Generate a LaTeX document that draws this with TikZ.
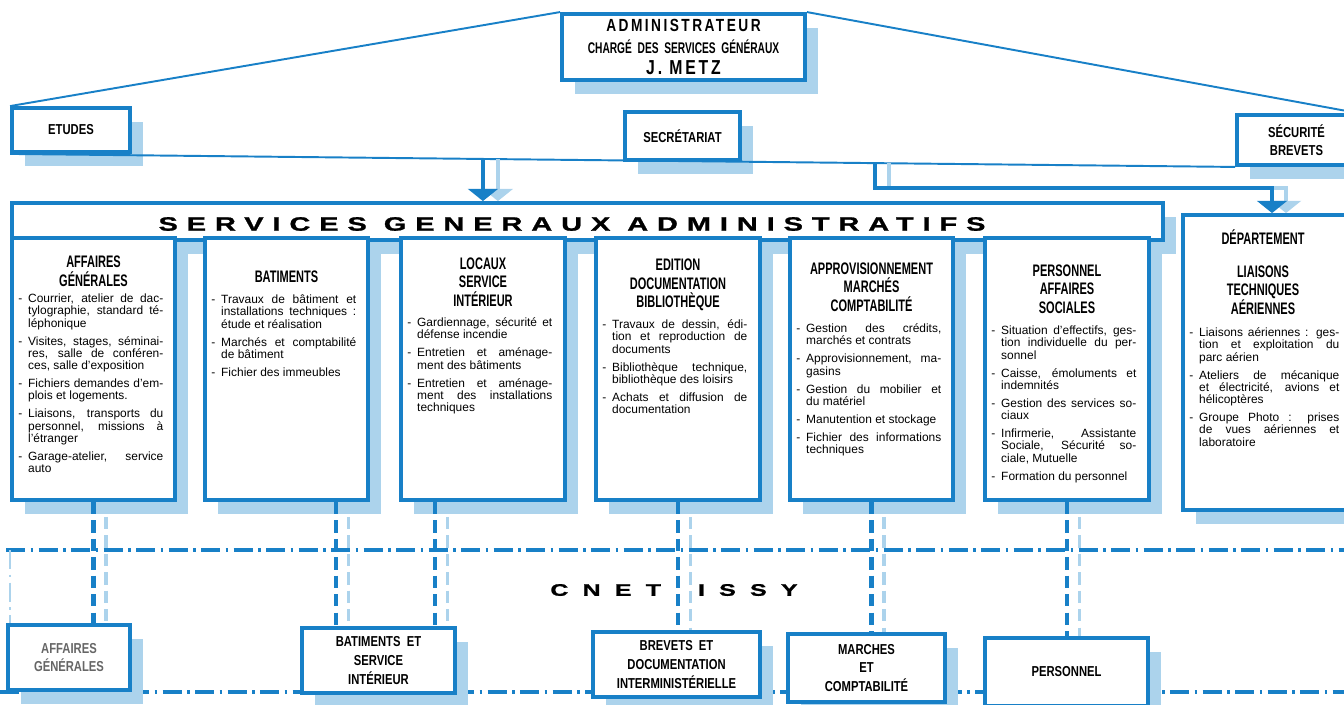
\documentclass[tikz,border=0pt]{standalone}
\usepackage{fontspec}
\setmainfont{Liberation Sans}
\newfontfamily\condfont[FakeStretch=0.66]{Liberation Sans}
\newfontfamily\midfont[FakeStretch=0.78]{Liberation Sans}
\newfontfamily\widefont[FakeStretch=1.5,FakeBold=1.2]{Liberation Sans}
\usetikzlibrary{arrows.meta,shadows,positioning}

\definecolor{cnetblue}{RGB}{24,128,199}
\definecolor{shade}{RGB}{172,211,236}

\newlength{\dashw}
\setlength{\dashw}{5.6pt}
% one entry of a service list, with a hanging dash
\newcommand{\duty}[1]{\par\hangindent=\dashw\hangafter=1\noindent
  \makebox[\dashw][l]{-}#1\par\vspace{3.2pt}}

\tikzset{
  box/.style={draw=cnetblue, line width=2.2pt, fill=white, inner sep=0pt,
    general shadow={fill=shade, shadow xshift=0.26cm, shadow yshift=-0.28cm}},
  wd/.style={minimum width={(#1)*0.02cm}},
  ht/.style={minimum height={(#1)*0.02cm}},
  head/.style={font=\condfont\bfseries\fontsize{9.5}{10.6}\selectfont,
    align=center, inner sep=0pt},
  tagtext/.style={font=\midfont\bfseries\fontsize{8.2}{10.6}\selectfont,
    align=center},
  body/.style={font=\fontsize{6.8}{7}\selectfont, text width=2.9cm,
    align=justify, inner sep=0pt, anchor=north west},
  link/.style={draw=cnetblue, line width=1.1pt},
  feed/.style={draw=cnetblue, line width=2.1pt,
    -{Triangle[width=17pt,length=7pt]}},
  drop/.style={draw=cnetblue, line width=2.4pt, dash pattern=on 7pt off 3.5pt},
  site/.style={draw=cnetblue, line width=1.8pt,
    dash pattern=on 11pt off 3pt on 1.5pt off 3pt},
}

\begin{document}
\begin{tikzpicture}[x=0.02cm, y=-0.02cm]
\useasboundingbox (0,0) rectangle (1344,704);
\clip (0,0) rectangle (1344,704);

% CNET Issy site
\draw[site] (6,550) -- (1344,550);
\draw[site] (0,692) -- (1344,692);
\draw[site, draw=shade, line width=1.2pt] (10,550) -- (10,625);

% direction
\node[box, wd=243, ht=66, align=center] (admin) at (683.5,47)
  {{\midfont\bfseries\fontsize{10}{11}\selectfont\addfontfeature{LetterSpace=14}ADMINISTRATEUR}\\
   {\condfont\bfseries\fontsize{8.8}{11}\selectfont CHARGÉ\ \ DES\ \ SERVICES\ \ GÉNÉRAUX}\\
   {\midfont\bfseries\fontsize{11.5}{13}\selectfont\addfontfeature{LetterSpace=14}J. METZ}};
\node[box, wd=118, ht=44, tagtext] (etudes) at (71,130) {ETUDES};
\node[box, wd=115, ht=48, tagtext] (secr) at (682.5,136) {SECRÉTARIAT};
\node[box, wd=119, ht=50, tagtext] (secu) at (1296.5,140) {SÉCURITÉ\\BREVETS};

\draw[link] (admin.north west) -- (etudes.north west);
\draw[link] (admin.north east) -- (secu.north east);
\draw[link] (etudes.south west) -- coordinate[pos=0.386] (tapA)
  coordinate[pos=0.706] (tapB) (secu.south west);

% services generaux administratifs
\node[box, wd=1151, ht=37] (sga) at (587.5,221.5) {};
\node[font=\widefont\bfseries\fontsize{11}{11}\selectfont\addfontfeature{LetterSpace=46}]
  (sgatitle) at (572,224) {SERVICES GENERAUX ADMINISTRATIFS};

\node[box, wd=163, ht=262] (colA) at (93.5,369) {};
\node[box, wd=163, ht=262] (colB) at (286.5,369) {};
\node[box, wd=164, ht=262] (colC) at (483,369) {};
\node[box, wd=164, ht=262] (colD) at (678,369) {};
\node[box, wd=163, ht=262] (colE) at (871.5,369) {};
\node[box, wd=164, ht=262] (colF) at (1067,369) {};
\node[box, wd=178, ht=295] (dept) at (1272,362.5) {};

\draw[feed, draw=shade, transform canvas={xshift=0.3cm}] (tapA) -- (tapA |- sga.north);
\draw[feed] (tapA) -- (tapA |- sga.north);
\coordinate (elbow) at (877,188);
\draw[feed, draw=shade, transform canvas={xshift=0.28cm}] (tapB) -- (tapB |- elbow) -| (dept.north);
\draw[feed] (tapB) -- (tapB |- elbow) -| (dept.north);

\node[head] (headA) at (93.5,271) {AFFAIRES\\GÉNÉRALES};
\node[head] (headB) at (286.5,277) {BATIMENTS};
\node[head] (headC) at (483,282) {LOCAUX\\SERVICE\\INTÉRIEUR};
\node[head] (headD) at (678,285) {EDITION\\DOCUMENTATION\\BIBLIOTHÈQUE};
\node[head] (headE) at (871.5,287) {APPROVISIONNEMENT\\MARCHÉS\\COMPTABILITÉ};
\node[head] (headF) at (1067,289) {PERSONNEL\\AFFAIRES\\SOCIALES};
\node[head] (deptname) at (1263,237) {DÉPARTEMENT};
\node[head] (headG) at (1263,290) {LIAISONS\\TECHNIQUES\\AÉRIENNES};

\node[body] (listA) at (18,290) {
  \duty{Courrier, atelier de dac-\linebreak tylographie, standard té-\linebreak léphonique}
  \duty{Visites, stages, séminai-\linebreak res, salle de conféren-\linebreak ces, salle d'exposition}
  \duty{Fichiers demandes d'em-\linebreak plois et logements.}
  \duty{Liaisons, transports du\linebreak personnel, missions à\linebreak l'étranger}
  \duty{Garage-atelier, service\linebreak auto}};
\node[body] (listB) at (211,291) {
  \duty{Travaux de bâtiment et\linebreak installations techniques~:\linebreak étude et réalisation}
  \duty{Marchés et comptabilité\linebreak de bâtiment}
  \duty{Fichier des immeubles}};
\node[body] (listC) at (407,314) {
  \duty{Gardiennage, sécurité et\linebreak défense incendie}
  \duty{Entretien et aménage-\linebreak ment des bâtiments}
  \duty{Entretien et aménage-\linebreak ment des installations\linebreak techniques}};
\node[body] (listD) at (602,316) {
  \duty{Travaux de dessin, édi-\linebreak tion et reproduction de\linebreak documents}
  \duty{Bibliothèque technique,\linebreak bibliothèque des loisirs}
  \duty{Achats et diffusion de\linebreak documentation}};
\node[body] (listE) at (796,320) {
  \duty{Gestion des crédits,\linebreak marchés et contrats}
  \duty{Approvisionnement, ma-\linebreak gasins}
  \duty{Gestion du mobilier et\linebreak du matériel}
  \duty{Manutention et stockage}
  \duty{Fichier des informations\linebreak techniques}};
\node[body] (listF) at (991,322) {
  \duty{Situation d'effectifs, ges-\linebreak tion individuelle du per-\linebreak sonnel}
  \duty{Caisse, émoluments et\linebreak indemnités}
  \duty{Gestion des services so-\linebreak ciaux}
  \duty{Infirmerie, Assistante\linebreak Sociale, Sécurité so-\linebreak ciale, Mutuelle}
  \duty{Formation du personnel}};
\node[body, text width=3cm] (listG) at (1189,324) {
  \duty{Liaisons aériennes~: ges-\linebreak tion et exploitation du\linebreak parc aérien}
  \duty{Ateliers de mécanique\linebreak et électricité, avions et\linebreak hélicoptères}
  \duty{Groupe Photo~: prises\linebreak de vues aériennes et\linebreak laboratoire}};

% CNET Issy
\node[box, wd=122, ht=65, tagtext, text=black!60] (botA) at (69,657.5) {AFFAIRES\\GÉNÉRALES};
\node[box, wd=153, ht=65, tagtext] (botB) at (378.5,660.5) {BATIMENTS\ \ ET\\SERVICE\\INTÉRIEUR};
\node[box, wd=167, ht=65, tagtext] (botD) at (676.5,664.5) {BREVETS\ \ ET\\DOCUMENTATION\\INTERMINISTÉRIELLE};
\node[box, wd=157, ht=68, tagtext] (botE) at (866.5,668) {MARCHES\\ET\\COMPTABILITÉ};
\node[box, wd=163, ht=68, tagtext] (botF) at (1066.5,672) {PERSONNEL};

\foreach \c/\b/\s in {colA/botA/0, colB/botB/0.99, colC/botB/-0.96,
                      colD/botD/0, colE/botE/0, colF/botF/0} {
  \draw[drop, draw=shade, line width=2pt, transform canvas={xshift=0.25cm}]
    ([xshift=\s cm, yshift=-0.3cm]\c.south) -- ([xshift=\s cm]\c.south |- \b.north);
  \draw[drop] ([xshift=\s cm]\c.south) -- ([xshift=\s cm]\c.south |- \b.north);
}

\node[font=\widefont\bfseries\fontsize{9.5}{9.5}\selectfont\addfontfeature{LetterSpace=85}]
  (issy) at (674,590) {CNET\hspace{9pt} ISSY};
\end{tikzpicture}
\end{document}
